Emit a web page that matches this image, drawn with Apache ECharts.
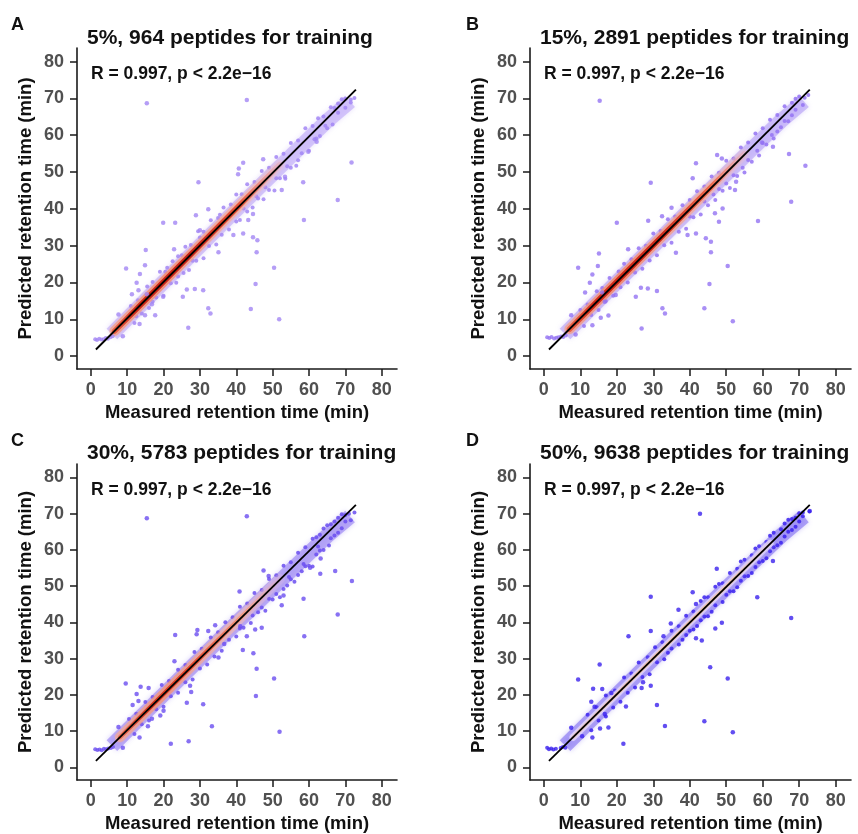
<!DOCTYPE html>
<html>
<head>
<meta charset="utf-8">
<script src="https://cdn.jsdelivr.net/npm/echarts@6/dist/echarts.min.js"></script>
<style>
  html, body { margin: 0; padding: 0; background: #fff; }
  #chart { width: 858px; height: 834px; }
</style>
</head>
<body>
<div id="chart"></div>
<script>
// ---- data ----
const ticks = [0, 10, 20, 30, 40, 50, 60, 70, 80]
const panelLetters = ['A', 'B', 'C', 'D']
const panelTitles = [
  '5%, 964 peptides for training',
  '15%, 2891 peptides for training',
  '30%, 5783 peptides for training',
  '50%, 9638 peptides for training',
]
const statText = 'R = 0.997, p < 2.2e\u221216'
const xName = 'Measured retention time (min)'
const yName = 'Predicted retention time (min)'

// regression line (same in all panels)
const fitLine = [[1.4, 1.8], [72.9, 72.4]]

// centre of the dense band of peptides
const bandCentre = [[5.8, 6.0], [20, 20.1], [40, 39.8], [55, 54.3], [65, 63.9], [71.3, 69.2]]
// red high-density core, per panel
const coreA = [[6.5, 6.8], [52, 52]]
const coreB = [[7, 7.3], [55, 55]]
const coreC = [[8, 8.3], [52, 52]]
const coreD = [[8, 8.3], [62, 61.8]]

// early eluting cluster (bottom left)
const clusterA = [[1.2, 4.6], [1.7, 4.4], [2.3, 4.7], [2.9, 4.5], [3.5, 4.6], [4.1, 4.9], [4.7, 4.7], [5.4, 5.1], [6.0, 5.4]]
const clusterB = [[0.9, 5.1], [1.5, 4.9], [2.1, 5.2], [2.8, 4.8], [3.4, 5.0], [4.0, 5.1], [4.7, 5.3], [5.3, 5.2], [6.0, 5.6]]
const clusterC = [[1.2, 5.0], [1.8, 4.8], [2.4, 4.9], [3.0, 4.7], [3.6, 5.1], [4.2, 5.0], [4.8, 5.2], [5.5, 5.3], [6.1, 5.6]]
const clusterD = [[0.9, 5.4], [1.4, 5.0], [2.0, 5.2], [2.6, 4.9], [3.3, 5.1], [4.6, 5.3], [5.2, 5.6], [5.9, 5.4]]

// points hugging the band edges
const edgeA = [
  [11, 13.6], [13, 15.2], [15.5, 18.9], [17, 20.1], [19, 22.9], [21, 24.0], [22.5, 25.8], [24, 27.1], [26, 29.7],
  [27.5, 30.2], [29.5, 33.9], [31, 33.8], [33, 36.9], [35, 37.5], [36.5, 40.4], [38.5, 41.2], [40, 43.9], [41.5, 44.0],
  [43, 46.7], [45, 47.3], [47, 50.3], [49, 51.2], [51, 54.1], [53, 55.0], [55, 57.9], [57, 58.6], [59, 61.9], [61, 62.5],
  [62.5, 64.6], [64, 65.1], [66, 67.6], [68, 68.6], [70, 69.9], [72.5, 70.1], [71.5, 69.7], [69, 69.8], [67, 67.4],
  [12, 9.0], [14, 11.6], [16, 13.1], [18, 15.9], [20, 16.4], [22, 19.8], [23.5, 19.9], [25.5, 22.6], [27, 23.4],
  [29, 25.9], [31, 26.6], [32.5, 29.9], [34.5, 30.3], [36, 33.0], [38, 34.4], [40, 36.6], [41, 37.0], [43, 39.3],
  [44.5, 40.4], [46, 42.8], [47.5, 42.6], [49, 45.1], [50.5, 45.0], [52, 48.3], [53.5, 48.2], [55, 51.2], [56.5, 51.7],
  [58, 55.1], [60, 55.8], [61.5, 58.9], [63, 59.8], [65, 61.9], [66.5, 62.9], [68, 66.1], [70, 67.5], [71.5, 68.9],
  [42, 40.1], [45.5, 43.4], [48, 45.9], [51, 48.3], [54, 51.6], [57, 53.2], [62, 59.1], [64.5, 62.6],
  [20.5, 22.9], [25, 27.4], [30, 32.2], [35.5, 38.4], [12.5, 10.8], [17, 14.8], [24, 21.6], [28, 25.9],
]
const edgeB = [
  [10, 12.5], [12, 14.0], [14.5, 17.6], [16, 18.5], [18, 21.2], [20.5, 23.0], [22, 25.1], [24, 26.3], [26, 29.3],
  [28, 30.0], [30, 33.3], [32, 34.0], [34, 37.2], [36, 37.9], [38, 41.0], [40, 42.4], [42, 44.8], [44, 46.1], [46, 48.8],
  [48, 49.8], [50, 53.1], [52, 53.7], [54, 56.7], [56, 58.0], [58, 60.5], [60, 61.9], [62, 64.2], [64, 65.5], [66, 67.9],
  [68, 68.8], [70, 70.5], [72.5, 70.9], [71.5, 70.2], [69, 69.9],
  [11, 8.2], [13, 11.2], [15, 12.5], [17, 15.0], [19, 16.4], [21, 18.7], [23, 20.0], [25, 22.7], [27, 23.7], [29, 26.0],
  [31, 27.4], [33, 30.1], [35, 30.8], [37, 33.8], [39, 34.6], [41, 37.7], [43, 38.5], [45, 41.0], [47, 42.4], [49, 44.9],
  [51, 45.7], [53, 48.9], [55, 49.9], [57, 52.8], [59, 54.5], [61, 57.5], [63, 59.1], [65, 62.2], [67, 63.8], [69, 66.9],
  [71, 68.2], [46.5, 43.9], [50, 46.9], [54.5, 51.2], [58.5, 55.8], [62.5, 60.1], [66, 63.9],
  [40, 37.9], [44, 42.0], [48, 45.4], [52, 49.1], [56, 53.3], [60, 57.9], [64, 61.0], [68, 65.4],
]
const edgeC = [
  [10.5, 13.3], [12.5, 14.8], [15, 18.0], [17, 19.4], [19.5, 22.7], [21.5, 23.8], [24, 26.9], [26, 28.2], [28.5, 31.8],
  [30.5, 32.7], [33, 35.8], [35, 37.3], [37, 40.0], [39, 41.4], [41, 44.3], [43, 45.2], [45, 48.1], [47, 48.9], [49, 52.0],
  [51, 53.0], [53, 55.6], [55, 56.6], [57, 59.2], [59, 60.7], [61, 63.1], [63, 64.2], [65, 66.8], [67, 67.8], [69, 69.8],
  [71, 70.0], [72.5, 70.3], [70, 69.6], [68, 68.9], [66, 67.1], [64, 65.9], [62, 63.5],
  [12, 9.2], [14, 11.9], [16, 12.9], [18, 16.0], [20, 16.7], [22, 19.6], [24, 20.6], [26, 23.5], [28, 24.2], [30, 27.3],
  [32, 28.4], [34, 30.6], [36, 32.2], [38, 35.2], [40, 36.1], [42, 38.5], [44, 39.8], [46, 42.8], [48, 43.2], [50, 46.3],
  [52, 46.9], [54, 50.2], [56, 51.2], [58, 54.1], [60, 55.6], [62, 58.7], [64, 60.0], [66, 63.2], [68, 64.7], [70, 67.8],
  [71.5, 68.2], [47, 44.1], [51, 47.8], [55, 51.9], [59, 55.5], [63, 59.8], [67, 64.0], [65.5, 61.2], [61, 55.4], [57, 53.1],
  [53, 49.2], [44.5, 41.9], [41, 38.3], [69, 66.0], [62.5, 60.9], [58.5, 56.1], [54.5, 52.5], [49, 46.5],
]
const edgeD = [
  [12, 14.5], [14.5, 16.6], [17, 19.8], [19.5, 21.2], [22, 24.8], [24, 25.9], [26, 28.9], [28.5, 30.4], [30.5, 33.1],
  [32.5, 34.5], [35, 37.7], [37, 38.9], [39, 41.8], [41, 43.0], [43, 45.9], [45, 46.9], [47, 49.8], [49, 50.8], [51, 53.6],
  [53, 54.8], [55, 57.3], [57, 58.5], [59, 61.0], [61, 62.2], [63, 64.7], [65, 65.7], [67, 68.3], [69, 68.9], [71, 70.3],
  [72.8, 70.6], [54, 56.8], [58, 60.4], [62, 63.9], [66, 67.3], [44, 46.9], [48, 50.6], [70, 70.1], [68, 68.5],
  [13, 10.2], [15, 12.9], [17, 14.0], [19, 16.5], [21, 18.1], [23, 20.6], [25, 22.0], [27, 24.9], [29, 25.7], [31, 29.0],
  [33, 29.8], [35, 32.8], [37, 33.9], [39, 36.5], [41, 38.0], [43, 40.6], [45, 41.7], [47, 44.7], [49, 45.6], [51, 48.6],
  [53, 49.7], [55, 52.7], [57, 53.6], [59, 56.6], [61, 57.7], [63, 60.7], [65, 62.0], [67, 65.0], [69, 66.4], [71, 69.3],
  [52, 48.6], [56, 52.8], [60, 56.9], [64, 61.3], [68, 65.5], [46, 42.9], [42, 39.0], [38, 35.2], [34, 31.6],
  [50, 47.6], [54, 51.5], [58, 55.3], [62, 59.6], [66, 63.7], [70, 67.8], [44, 41.6], [40, 37.7],
]

// scattered peptides away from the band
const outA = [
  [15.4, 68.7], [42.9, 69.6], [71.7, 52.6], [67.9, 42.4], [58.6, 37.0], [58.4, 47.2], [29.6, 47.2], [50.4, 24.0],
  [51.8, 10.0], [44.0, 12.8], [45.3, 19.6], [45.6, 28.2], [45.8, 31.5], [44.6, 32.3], [26.8, 7.7], [32.3, 13.0],
  [32.9, 11.6], [30.9, 17.9], [28.6, 18.2], [26.4, 18.1], [25.3, 16.1], [19.9, 36.2], [23.2, 36.2], [15.1, 28.8],
  [14.9, 24.7], [9.7, 23.8], [13.5, 22.3], [12.6, 19.9], [13.1, 17.9], [11.3, 16.8], [15.4, 16.8], [7.6, 11.3],
  [13.4, 8.7], [8.8, 5.4], [14.9, 11.1], [17.7, 11.1], [16.8, 14.1], [19.9, 16.1], [22.9, 29.0], [28.9, 38.3],
  [32.3, 39.9], [30.0, 34.2], [40.7, 51.0], [41.9, 52.5], [40.5, 49.4], [47.4, 53.5], [52.5, 45.1], [53.4, 48.7],
  [62.1, 58.2], [59.8, 55.5], [41.9, 33.3], [39.2, 32.9], [43.3, 37.0], [44.6, 38.6], [35.1, 28.2],
]
const outB = [
  [15.3, 69.4], [29.3, 47.1], [20.0, 36.2], [71.7, 51.7], [67.2, 54.9], [67.8, 41.9], [58.7, 36.7], [50.4, 24.5],
  [51.8, 9.5], [44.0, 13.0], [45.4, 19.6], [45.8, 28.2], [45.8, 31.1], [44.4, 32.0], [26.8, 7.5], [32.5, 13.0],
  [33.2, 11.6], [31.0, 17.7], [28.5, 18.4], [26.6, 18.6], [25.2, 16.1], [28.6, 36.8], [23.1, 29.0], [15.1, 27.9],
  [14.8, 24.5], [9.4, 24.0], [13.3, 22.2], [12.6, 19.9], [11.3, 17.3], [16.0, 17.3], [13.3, 8.4], [8.7, 5.9],
  [7.5, 11.1], [17.7, 11.0], [15.6, 10.4], [16.7, 14.8], [19.7, 16.6], [41.7, 52.4], [40.8, 48.3], [47.5, 54.6],
  [48.8, 53.7], [52.4, 45.1], [52.7, 47.4], [59.8, 58.0], [62.8, 56.9], [49.0, 40.1], [48.0, 36.5], [46.9, 38.8],
  [41.7, 33.3], [39.4, 32.9], [36.2, 28.1], [32.4, 38.0], [35.0, 40.3],
]
const outC = [
  [15.4, 68.7], [42.9, 69.3], [71.8, 51.4], [67.2, 54.2], [67.9, 42.2], [58.7, 36.2], [58.5, 46.5], [50.4, 24.5],
  [51.9, 9.8], [45.4, 19.7], [45.6, 27.2], [44.7, 31.5], [41.8, 32.4], [26.9, 7.2], [22.0, 6.5], [33.3, 11.3],
  [30.9, 17.4], [27.6, 20.8], [27.3, 22.5], [26.4, 17.8], [23.2, 36.5], [23.0, 29.3], [29.1, 36.7], [29.3, 37.9],
  [32.3, 37.6], [34.2, 39.2], [9.6, 23.1], [13.7, 22.2], [15.9, 21.9], [12.6, 20.2], [11.5, 17.2], [13.1, 18.3],
  [7.6, 11.1], [13.4, 8.2], [8.8, 5.4], [15.7, 11.3], [16.8, 13.4], [20.0, 15.6], [19.1, 14.3], [40.9, 48.5],
  [47.5, 54.3], [48.9, 52.8], [52.5, 44.7], [53.0, 47.4], [63.2, 57.6], [60.3, 55.1], [63.1, 53.4], [42.9, 36.2],
  [47.0, 38.5], [45.2, 38.0], [41.1, 38.9], [36.7, 34.0], [35.1, 30.3],
]
const outD = [
  [42.8, 70.0], [67.8, 41.2], [58.5, 46.9], [47.4, 54.8], [50.4, 24.5], [51.8, 9.7], [44.0, 12.7], [45.6, 27.6],
  [48.8, 39.9], [47.0, 38.3], [43.3, 35.0], [41.7, 35.6], [29.3, 47.1], [29.3, 37.6], [23.2, 36.2], [31.0, 17.2],
  [33.2, 11.4], [26.8, 21.9], [27.2, 23.5], [29.3, 22.5], [22.5, 16.8], [21.8, 6.5], [15.3, 28.4], [9.4, 24.2],
  [13.5, 21.7], [16.0, 21.6], [13.0, 18.1], [13.9, 16.7], [7.5, 10.9], [13.3, 8.2], [15.4, 10.7], [17.7, 11.0],
  [16.7, 14.7], [18.5, 20.5], [10.5, 8.6], [40.8, 48.3], [41.7, 45.1], [72.9, 70.7], [62.8, 56.9], [36.9, 43.5],
  [34.8, 39.7], [32.8, 36.2],
]

// ---- layout / styling ----
const grids = [
  { left: 77, top: 48, width: 320, height: 321 },
  { left: 530, top: 48, width: 321, height: 321 },
  { left: 77, top: 464, width: 320, height: 321 },
  { left: 530, top: 464, width: 321, height: 321 },
]
const pointColors = ['#a286f4', '#9473f3', '#6a4ef0', '#3b22ee']
const bandColors = ['rgba(190,168,248,0.6)', 'rgba(180,158,247,0.6)', 'rgba(150,128,243,0.6)', 'rgba(130,112,241,0.6)']
const edges = [edgeA, edgeB, edgeC, edgeD]
const clusters = [clusterA, clusterB, clusterC, clusterD]
const outliers = [outA, outB, outC, outD]
const cores = [coreA, coreB, coreC, coreD]

const font = 'Liberation Sans, Arial, Helvetica, sans-serif'
const G = echarts.graphic.LinearGradient

// mid (salmon) and core (red) colour ramps along the band
const midGrad = [
  new G(0, 0, 1, 0, [{ offset: 0, color: 'rgba(244,160,135,0.7)' }, { offset: 0.3, color: 'rgba(243,140,110,0.85)' }, { offset: 0.75, color: 'rgba(246,180,160,0.7)' }, { offset: 1, color: 'rgba(240,200,210,0.2)' }]),
  new G(0, 0, 1, 0, [{ offset: 0, color: 'rgba(244,160,135,0.7)' }, { offset: 0.3, color: 'rgba(243,135,105,0.85)' }, { offset: 0.75, color: 'rgba(246,175,155,0.7)' }, { offset: 1, color: 'rgba(240,200,210,0.2)' }]),
  new G(0, 0, 1, 0, [{ offset: 0, color: 'rgba(245,170,150,0.7)' }, { offset: 0.3, color: 'rgba(244,145,115,0.8)' }, { offset: 0.7, color: 'rgba(246,190,175,0.6)' }, { offset: 1, color: 'rgba(230,200,240,0.2)' }]),
  new G(0, 0, 1, 0, [{ offset: 0, color: 'rgba(225,212,250,0.85)' }, { offset: 1, color: 'rgba(220,208,250,0.85)' }]),
]
const coreGrad = [
  new G(0, 0, 1, 0, [{ offset: 0, color: '#ef6a4c' }, { offset: 0.15, color: '#cf2a18' }, { offset: 0.45, color: '#c82416' }, { offset: 0.75, color: '#e8583c' }, { offset: 1, color: 'rgba(244,150,130,0.2)' }]),
  new G(0, 0, 1, 0, [{ offset: 0, color: '#ef6a4c' }, { offset: 0.15, color: '#d42c18' }, { offset: 0.5, color: '#cc2818' }, { offset: 0.8, color: '#ec6a4c' }, { offset: 1, color: 'rgba(244,160,140,0.2)' }]),
  new G(0, 0, 1, 0, [{ offset: 0, color: '#f07a5c' }, { offset: 0.2, color: '#d93a20' }, { offset: 0.45, color: '#e4492c' }, { offset: 0.75, color: '#f29a80' }, { offset: 1, color: 'rgba(244,180,170,0.1)' }]),
  new G(0, 0, 1, 0, [{ offset: 0, color: 'rgba(245,195,170,0.6)' }, { offset: 0.4, color: '#f3c0a2' }, { offset: 0.8, color: '#f1c6b0' }, { offset: 1, color: 'rgba(240,200,200,0.3)' }]),
]

const titles = []
const xAxes = []
const yAxes = []
const series = []

grids.forEach((g, i) => {
  const dx = g.left - 77
  const dy = g.top - 48

  titles.push({ text: panelLetters[i], left: 11 + dx + (i % 2 ? 2 : 0), top: 16 + dy, padding: 0,
    textStyle: { fontFamily: font, fontSize: 18, fontWeight: 'bold', color: '#111' } })
  titles.push({ text: panelTitles[i], left: 87 + dx, top: 28 + dy - (i > 1 ? 1 : 0), padding: 0,
    textStyle: { fontFamily: font, fontSize: 21, fontWeight: 'bold', color: '#111' } })
  titles.push({ text: statText, left: 91 + dx, top: 65 + dy, padding: 0,
    textStyle: { fontFamily: font, fontSize: 17.5, fontWeight: 'bold', color: '#111' } })

  const axisLine = { onZero: false, lineStyle: { color: '#1a1a1a', width: 1.6 } }
  const axisTick = { customValues: ticks, length: 7, lineStyle: { color: '#1a1a1a', width: 1.5 } }
  const axisLabel = { customValues: ticks, fontFamily: font, fontSize: 18, fontWeight: 'bold', color: '#505050' }

  xAxes.push({
    gridIndex: i, type: 'value', min: -3.8, max: 84.2,
    axisLine, axisTick, axisLabel: { ...axisLabel, margin: 12 },
    splitLine: { show: false },
    name: xName, nameLocation: 'middle', nameGap: 34,
    nameTextStyle: { fontFamily: font, fontSize: 18.5, fontWeight: 'bold', color: '#111' },
  })
  yAxes.push({
    gridIndex: i, type: 'value', min: -3.5, max: 83.7,
    axisLine, axisTick, axisLabel: { ...axisLabel, margin: 13 },
    splitLine: { show: false },
    name: yName, nameLocation: 'middle', nameGap: 42,
    nameTextStyle: { fontFamily: font, fontSize: 18.5, fontWeight: 'bold', color: '#111' },
  })

  const ax = { xAxisIndex: i, yAxisIndex: i }
  series.push({ type: 'line', ...ax, data: bandCentre, symbol: 'none', silent: true, z: 1,
    lineStyle: { color: bandColors[i], width: 15, cap: 'butt', join: 'round', shadowBlur: 5, shadowColor: bandColors[i] } })
  series.push({ type: 'scatter', ...ax, data: edges[i], symbolSize: 4, z: 2, silent: true,
    itemStyle: { color: pointColors[i], opacity: 0.85 } })
  series.push({ type: 'line', ...ax, data: cores[i], symbol: 'none', silent: true, z: 3,
    lineStyle: { color: midGrad[i], width: i === 3 ? 7 : 10, cap: 'round', shadowBlur: 3, shadowColor: i === 3 ? 'rgba(220,210,250,0.5)' : 'rgba(245,170,150,0.5)' } })
  series.push({ type: 'line', ...ax, data: cores[i], symbol: 'none', silent: true, z: 4,
    lineStyle: { color: coreGrad[i], width: i === 3 ? 3.5 : (i === 2 ? 4.5 : 5.5), cap: 'round' } })
  series.push({ type: 'scatter', ...ax, data: clusters[i], symbolSize: 4, z: 5, silent: true,
    itemStyle: { color: pointColors[i] } })
  series.push({ type: 'scatter', ...ax, data: outliers[i], symbolSize: 4.5, z: 5, silent: true,
    itemStyle: { color: pointColors[i] } })
  series.push({ type: 'line', ...ax, data: fitLine, symbol: 'none', silent: true, z: 6,
    lineStyle: { color: '#000', width: 1.8 } })
})

const chart = echarts.init(document.getElementById('chart'), null, { renderer: 'canvas' })
chart.setOption({
  backgroundColor: '#fff',
  animation: false,
  title: titles,
  grid: grids,
  xAxis: xAxes,
  yAxis: yAxes,
  series,
})
</script>
</body>
</html>
